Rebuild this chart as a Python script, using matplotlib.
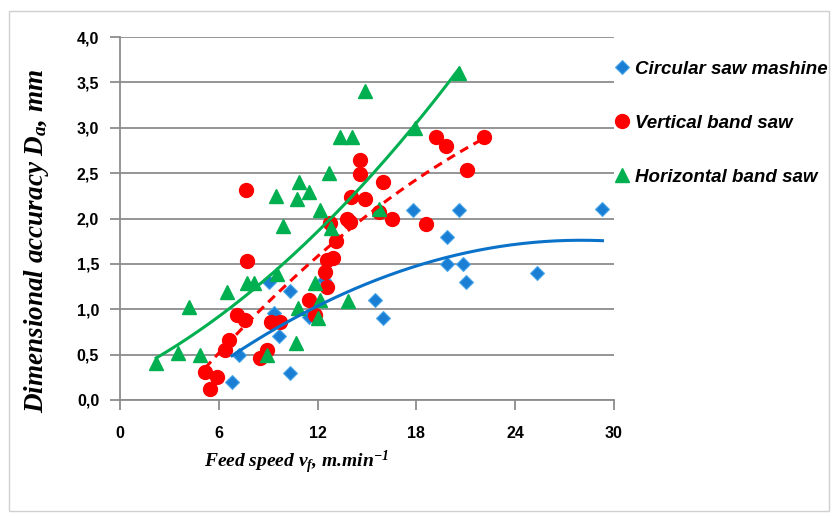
import numpy as np
import matplotlib
matplotlib.use("Agg")
import matplotlib.pyplot as plt
from matplotlib.patches import Rectangle

# Data (feed speed, m/min ; accuracy, mm)
circ_x = [6.8, 7.2, 9.05, 10.3, 9.35, 9.65, 10.3, 11.5, 12.4, 15.5, 16.0,
          17.8, 19.85, 19.85, 20.6, 20.8, 21.0, 25.3, 29.3]
circ_y = [0.2, 0.5, 1.3, 1.2, 0.96, 0.7, 0.3, 0.92, 1.32, 1.1, 0.9,
          2.09, 1.8, 1.5, 2.09, 1.5, 1.3, 1.4, 2.1]

vert_x = [5.45, 5.15, 5.9, 6.4, 6.6, 7.1, 7.6, 7.7, 7.65, 8.5, 8.9, 9.2, 9.7,
          11.5, 11.85, 12.55, 12.45, 12.6, 12.75, 12.95, 13.1, 13.8, 13.95,
          14.0, 14.6, 14.6, 14.9, 15.7, 16.0, 16.5, 18.6, 19.2, 19.8, 21.1, 22.1]
vert_y = [0.12, 0.31, 0.25, 0.55, 0.66, 0.94, 0.88, 1.53, 2.31, 0.46, 0.55, 0.86, 0.86,
          1.1, 0.94, 1.24, 1.41, 1.54, 1.95, 1.56, 1.75, 2.0, 1.96,
          2.24, 2.49, 2.65, 2.21, 2.07, 2.4, 1.99, 1.94, 2.9, 2.8, 2.53, 2.9]

horiz_x = [2.2, 3.5, 4.2, 4.85, 6.5, 7.7, 8.15, 8.9, 9.5, 9.55, 9.9, 10.7, 10.8,
           10.75, 10.9, 11.5, 11.85, 12.15, 12.0, 12.15, 12.7, 12.8, 13.35,
           13.85, 14.1, 14.9, 15.7, 17.9, 20.6]
horiz_y = [0.41, 0.52, 1.02, 0.5, 1.19, 1.29, 1.29, 0.5, 2.25, 1.39, 1.92, 0.63, 1.01,
           2.22, 2.4, 2.29, 1.29, 1.1, 0.9, 2.09, 2.5, 1.9, 2.9,
           1.09, 2.9, 3.4, 2.1, 3.0, 3.6]

# 2nd order trend line of the circular saw, coefficients
circ_trend = [-0.00283, 0.1585, -0.459]

labels = ["Circular saw mashine", "Vertical band saw", "Horizontal band saw"]
x_ticks = [0, 6, 12, 18, 24, 30]
y_ticks = [0.0, 0.5, 1.0, 1.5, 2.0, 2.5, 3.0, 3.5, 4.0]

plt.rcParams['mathtext.fontset'] = 'custom'
plt.rcParams['mathtext.rm'] = 'Liberation Serif:bold:italic'
plt.rcParams['mathtext.it'] = 'Liberation Serif:bold:italic'

W, H = 834, 516
fig = plt.figure(figsize=(W / 100, H / 100), dpi=100)
ax = fig.add_axes([120 / W, 1 - 400 / H, (614 - 120) / W, (400 - 37) / H])

blue = '#0a72c8'
red = '#ff0000'
green = '#00b050'

# markers
ax.plot(circ_x, circ_y, 'D', color='#1a7fd4', markeredgecolor='#4aa6e8',
        markeredgewidth=0.8, markersize=7, label=labels[0], zorder=3)
ax.plot(vert_x, vert_y, 'o', color=red, markeredgecolor=red,
        markersize=10, label=labels[1], zorder=4)
ax.plot(horiz_x, horiz_y, '^', color=green, markeredgecolor=green,
        markersize=10, label=labels[2], zorder=5)

# polynomial trend lines (2nd order, like Excel)
def trend(xs, ys, c=None):
    if c is None:
        c = np.polyfit(xs, ys, 2)
    xx = np.linspace(min(xs), max(xs), 200)
    return xx, np.polyval(c, xx)

tx, ty = trend(circ_x, circ_y, circ_trend)
ax.plot(tx, ty, color=blue, lw=2.2, zorder=6)
tx, ty = trend(vert_x, vert_y)
ax.plot(tx, ty, color=red, lw=2.2, ls=(0, (3, 2)), zorder=6)
tx, ty = trend(horiz_x, horiz_y)
ax.plot(tx, ty, color=green, lw=2.2, zorder=6)

ax.set_xlim(0, 30)
ax.set_ylim(0, 4.0)
ax.set_xticks(x_ticks)
ax.set_yticks(y_ticks)
ax.set_xticklabels([str(t) for t in x_ticks])
ax.set_yticklabels([f"{t:.1f}".replace('.', ',') for t in y_ticks])
ax.grid(axis='y', color='#8c8c8c', lw=1.3)
ax.set_axisbelow(True)
for s in ['top', 'right']:
    ax.spines[s].set_visible(False)
for s in ['left', 'bottom']:
    ax.spines[s].set_color('#8c8c8c')
    ax.spines[s].set_linewidth(1.3)
ax.tick_params(axis='both', direction='out', color='#8c8c8c', width=1.3,
               length=7, labelsize=11.5)
ax.tick_params(axis='x', pad=12)
ax.tick_params(axis='y', pad=8)
for lab in ax.get_xticklabels() + ax.get_yticklabels():
    lab.set_fontfamily('Liberation Sans')
    lab.set_fontweight('bold')

fig.text(37 / W, 1 - 241 / H, r"Dimensional accuracy $D_a$, mm", rotation=90,
         ha='center', va='center', fontsize=19.5, family='Liberation Serif',
         weight='bold', style='italic')
fig.text(296 / W, 1 - 462 / H, r"Feed speed $v_f$, m.min$^{-1}$",
         ha='center', va='center', fontsize=14, family='Liberation Serif',
         weight='bold', style='italic')

leg = fig.legend(loc='upper left', bbox_to_anchor=(608 / W, 1 - 53 / H),
                 frameon=False, handlelength=0.7, handletextpad=0.35,
                 labelspacing=1.97, borderaxespad=0,
                 prop={'family': 'Liberation Sans', 'weight': 'bold',
                       'style': 'italic', 'size': 13.5})

fig.patches.append(Rectangle((9 / W, 1 - 511 / H), (829 - 9) / W, (511 - 11) / H,
                             transform=fig.transFigure, fill=False,
                             edgecolor='#d0d0d0', lw=1))

fig.savefig('out.png', dpi=100)
